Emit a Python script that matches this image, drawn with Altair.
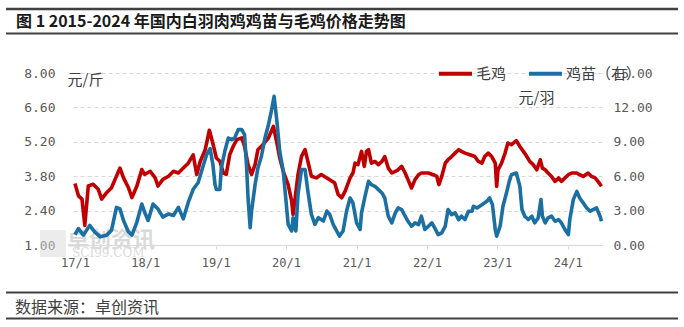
import altair as alt
import pandas as pd

# ---- data (time as decimal year) ----
SERIES = ["毛鸡", "鸡苗（右）"]

red_t = [2017.00, 2017.05, 2017.10, 2017.14, 2017.19, 2017.26, 2017.33, 2017.38, 2017.45, 2017.52,
         2017.57, 2017.64, 2017.69, 2017.76, 2017.81, 2017.88, 2017.95, 2017.99, 2018.07, 2018.14,
         2018.18, 2018.25, 2018.33, 2018.40, 2018.47, 2018.54, 2018.61, 2018.68, 2018.73, 2018.78,
         2018.85, 2018.91, 2018.96, 2019.01, 2019.06, 2019.11, 2019.15, 2019.20, 2019.25, 2019.30,
         2019.37, 2019.41, 2019.46, 2019.51, 2019.56, 2019.60, 2019.67, 2019.75, 2019.82, 2019.87,
         2019.91, 2019.96, 2020.03, 2020.08, 2020.10, 2020.13, 2020.17, 2020.22, 2020.27, 2020.31,
         2020.36, 2020.43, 2020.50, 2020.58, 2020.65, 2020.69, 2020.74, 2020.79, 2020.84, 2020.91,
         2020.95, 2020.98, 2021.02, 2021.07, 2021.11, 2021.14, 2021.17, 2021.21, 2021.26, 2021.31,
         2021.36, 2021.40, 2021.45, 2021.50, 2021.55, 2021.59, 2021.64, 2021.69, 2021.73, 2021.78,
         2021.83, 2021.88, 2021.92, 2021.97, 2022.02, 2022.09, 2022.14, 2022.17, 2022.21, 2022.26,
         2022.30, 2022.35, 2022.40, 2022.45, 2022.49, 2022.54, 2022.61, 2022.68, 2022.73, 2022.78,
         2022.82, 2022.87, 2022.92, 2022.97, 2022.99, 2023.01, 2023.06, 2023.11, 2023.15, 2023.20,
         2023.27, 2023.32, 2023.37, 2023.42, 2023.46, 2023.51, 2023.56, 2023.61, 2023.64, 2023.68,
         2023.72, 2023.77, 2023.82, 2023.87, 2023.91, 2023.96, 2024.01, 2024.06, 2024.13, 2024.17,
         2024.22, 2024.29, 2024.34, 2024.39, 2024.43, 2024.48]
red_v = [3.50, 3.00, 2.87, 1.80, 3.40, 3.47, 3.27, 2.87, 3.13, 3.33,
         3.67, 4.13, 3.73, 3.33, 2.93, 3.40, 4.07, 3.87, 4.00, 3.73,
         3.40, 3.67, 3.80, 4.00, 3.93, 4.13, 4.33, 4.67, 3.87, 4.40,
         4.87, 5.67, 5.13, 4.54, 4.41, 3.93, 3.87, 4.68, 5.02, 5.29,
         5.36, 5.02, 4.27, 3.87, 4.27, 4.88, 5.08, 5.36, 5.83, 5.15,
         4.54, 4.00, 3.46, 2.79, 2.24, 2.92, 3.87, 4.61, 4.88, 4.41,
         3.80, 3.73, 3.87, 3.73, 3.60, 3.53, 3.06, 2.92, 3.19, 3.73,
         3.93, 4.33, 4.27, 4.81, 4.20, 4.81, 4.88, 4.33, 4.40, 4.27,
         4.40, 4.60, 4.13, 3.93, 4.00, 4.06, 4.20, 3.93, 3.66, 3.32,
         3.66, 3.86, 3.93, 3.93, 3.93, 3.86, 3.79, 3.46, 3.79, 4.33,
         4.47, 4.60, 4.74, 4.88, 4.81, 4.74, 4.67, 4.60, 4.40, 4.33,
         4.60, 4.74, 4.60, 4.33, 3.39, 4.06, 4.33, 4.74, 5.15, 5.08,
         5.25, 5.01, 4.81, 4.60, 4.40, 4.27, 4.06, 4.47, 4.13, 4.06,
         3.93, 3.79, 3.59, 3.73, 3.59, 3.73, 3.86, 3.93, 3.93, 3.86,
         3.79, 3.93, 3.79, 3.73, 3.59, 3.39]

blue_t = [2017.00, 2017.05, 2017.12, 2017.21, 2017.28, 2017.36, 2017.45, 2017.52, 2017.59, 2017.64,
          2017.69, 2017.76, 2017.81, 2017.88, 2017.95, 2017.99, 2018.04, 2018.11, 2018.18, 2018.25,
          2018.33, 2018.40, 2018.47, 2018.54, 2018.61, 2018.68, 2018.75, 2018.82, 2018.87, 2018.92,
          2018.96, 2018.99, 2019.01, 2019.06, 2019.08, 2019.13, 2019.18, 2019.23, 2019.27, 2019.32,
          2019.37, 2019.41, 2019.44, 2019.46, 2019.49, 2019.51, 2019.56, 2019.60, 2019.65, 2019.70,
          2019.75, 2019.79, 2019.83, 2019.87, 2019.91, 2019.96, 2020.00, 2020.03, 2020.08, 2020.10,
          2020.14, 2020.17, 2020.22, 2020.27, 2020.31, 2020.36, 2020.41, 2020.46, 2020.53, 2020.58,
          2020.62, 2020.67, 2020.72, 2020.76, 2020.81, 2020.86, 2020.91, 2020.95, 2021.00, 2021.05,
          2021.07, 2021.12, 2021.17, 2021.21, 2021.26, 2021.31, 2021.36, 2021.40, 2021.45, 2021.50,
          2021.55, 2021.59, 2021.64, 2021.69, 2021.73, 2021.78, 2021.83, 2021.88, 2021.92, 2021.97,
          2022.02, 2022.07, 2022.11, 2022.16, 2022.21, 2022.26, 2022.30, 2022.35, 2022.40, 2022.45,
          2022.49, 2022.54, 2022.59, 2022.64, 2022.66, 2022.71, 2022.78, 2022.85, 2022.89, 2022.93,
          2022.97, 2022.99, 2023.04, 2023.08, 2023.13, 2023.17, 2023.20, 2023.27, 2023.32, 2023.35,
          2023.39, 2023.44, 2023.49, 2023.53, 2023.58, 2023.62, 2023.64, 2023.68, 2023.72, 2023.77,
          2023.82, 2023.87, 2023.91, 2023.96, 2024.01, 2024.03, 2024.08, 2024.13, 2024.17, 2024.22,
          2024.27, 2024.32, 2024.36, 2024.41, 2024.46, 2024.48]
blue_v = [0.90, 1.43, 0.86, 1.71, 1.14, 0.71, 0.86, 1.29, 3.28, 3.14,
          2.14, 1.14, 0.86, 2.00, 3.57, 2.86, 2.14, 3.57, 3.14, 2.43,
          2.71, 2.57, 3.28, 2.28, 3.71, 4.86, 5.43, 6.86, 7.86, 8.40,
          7.01, 5.28, 4.84, 4.84, 6.72, 8.17, 9.33, 9.19, 9.33, 10.06,
          10.06, 9.62, 6.72, 4.12, 1.51, 2.96, 5.28, 6.72, 7.74, 9.33,
          10.49, 11.65, 12.96, 10.78, 8.17, 6.43, 3.83, 1.80, 1.22, 2.38,
          1.22, 4.41, 6.58, 6.58, 4.70, 2.67, 1.80, 2.38, 2.09, 2.96,
          2.67, 1.80, 1.22, 0.78, 1.22, 2.96, 4.10, 3.67, 1.93, 1.35,
          2.80, 4.25, 5.55, 5.26, 5.12, 4.83, 4.54, 4.10, 2.51, 1.93,
          2.80, 3.23, 3.09, 2.51, 2.07, 1.64, 1.93, 1.78, 2.51, 1.35,
          1.64, 1.93, 1.49, 0.91, 1.06, 1.64, 3.09, 2.65, 2.80, 2.22,
          2.51, 2.22, 2.94, 2.94, 3.38, 3.23, 3.52, 3.81, 4.10, 3.52,
          1.35, 0.77, 1.64, 3.38, 4.54, 5.55, 6.13, 6.28, 5.12, 3.09,
          2.51, 2.22, 2.51, 1.93, 2.36, 3.96, 2.51, 1.93, 2.36, 2.51,
          2.07, 2.22, 1.93, 1.35, 0.91, 2.22, 3.96, 4.68, 4.10, 3.67,
          3.23, 2.94, 3.09, 3.23, 2.51, 2.07]

left_ticks = [1.00, 2.40, 3.80, 5.20, 6.60, 8.00]
right_ticks = [0, 3, 6, 9, 12, 15]

TITLE = "图 1 2015-2024 年国内白羽肉鸡鸡苗与毛鸡价格走势图"
SOURCE = "数据来源：卓创资讯"


def to_ts(y):
    yr = int(y)
    ts = pd.Timestamp(year=yr, month=1, day=1) + pd.to_timedelta((y - yr) * 365.25, unit="D")
    return ts.strftime("%Y-%m-%dT%H:%M:%S")


df = pd.concat([
    pd.DataFrame({"date": [to_ts(t) for t in red_t], "value": red_v, "series": SERIES[0]}),
    pd.DataFrame({"date": [to_ts(t) for t in blue_t], "value": blue_v, "series": SERIES[1]}),
])

RED = "#C00000"
BLUE = "#1B6FA3"
GRAY = "#595959"
GRID = "#D9D9D9"
CJK = "Noto Sans CJK SC"
MONO = "DejaVu Sans Mono"

W, H = 529, 172

color = alt.Color(
    "series:N",
    scale=alt.Scale(domain=SERIES, range=[RED, BLUE]),
    legend=alt.Legend(
        orient="none", legendX=364, legendY=-18, direction="horizontal", title=None,
        symbolType="stroke", symbolSize=1089, symbolStrokeWidth=4,
        labelFont=CJK, labelFontSize=15, labelColor="#404040", labelOffset=2,
        columnPadding=14, padding=0,
    ),
)

x_enc = alt.X(
    "date:T",
    scale=alt.Scale(domain=[alt.DateTime(year=2016, month=12, date=22),
                            alt.DateTime(year=2024, month=6, date=27)]),
    axis=alt.Axis(
        format="%y/%-m", tickCount=alt.TimeIntervalStep(interval="year", step=1),
        labelFont=MONO, labelFontSize=12, labelColor=GRAY, domainColor=GRID,
        tickColor=GRID, tickSize=4, labelPadding=8, grid=False, title=None,
    ),
)

y_left = alt.Y(
    "value:Q",
    scale=alt.Scale(domain=[1, 8], nice=False, zero=False),
    axis=alt.Axis(
        orient="left", values=left_ticks, format=".2f",
        labelFont=MONO, labelFontSize=13, labelColor=GRAY, labelPadding=18,
        ticks=False, tickSize=0, domain=False,
        grid=True, gridColor=GRID, gridDash=[4, 3],
        title="元/斤", titleAngle=0, titleX=-6, titleY=6, titleAlign="left",
        titleBaseline="middle", titleFont=CJK, titleFontSize=15,
        titleFontWeight="normal", titleColor="#404040",
    ),
)

y_right = alt.Y(
    "value:Q",
    scale=alt.Scale(domain=[0, 15], nice=False, zero=False),
    axis=alt.Axis(
        orient="right", values=right_ticks, format=".2f",
        labelFont=MONO, labelFontSize=13, labelColor=GRAY, labelPadding=11,
        ticks=False, tickSize=0, domain=False, grid=False,
        title="元/羽", titleAngle=0, titleX=-84, titleY=24, titleAlign="left",
        titleBaseline="middle", titleFont=CJK, titleFontSize=15,
        titleFontWeight="normal", titleColor="#404040",
    ),
)

base = alt.Chart(df)

red_line = base.transform_filter(alt.datum.series == SERIES[0]).mark_line(
    strokeWidth=3.6, strokeJoin="round").encode(x=x_enc, y=y_left, color=color)
blue_line = base.transform_filter(alt.datum.series == SERIES[1]).mark_line(
    strokeWidth=3.6, strokeJoin="round").encode(x=x_enc, y=y_right, color=color)

one = alt.Data(values=[{}])


def deco_text(txt, x, y, size, weight="normal", col="#222222", font=CJK, opacity=1.0):
    return alt.Chart(one).mark_text(
        text=txt, align="left", baseline="middle", font=font, fontSize=size,
        fontWeight=weight, color=col, opacity=opacity,
    ).encode(x=alt.value(x), y=alt.value(y))


def hrule(x1, x2, y, w, col="#404040"):
    return alt.Chart(one).mark_rule(strokeWidth=w, color=col).encode(
        x=alt.value(x1), x2=alt.value(x2), y=alt.value(y))


wm_box = alt.Chart(one).mark_rect(color="#DADADA", opacity=0.5).encode(
    x=alt.value(-33), x2=alt.value(-7), y=alt.value(157), y2=alt.value(184))
wm_text1 = deco_text("卓创资讯", -6, 167, 22, "bold", "#DADADA")
wm_text2 = deco_text("SCI99.COM", -1, 180, 12, "normal", "#DADADA", "DejaVu Serif")

title = deco_text(TITLE, -57, -51, 16, "bold", "#1A1A1A")
source = deco_text(SOURCE, -58, 235, 16, "normal", "#404040")

rules = [
    hrule(-67, 605, -64, 2.5),
    hrule(-67, 605, -39.5, 2),
    hrule(-67, 605, 219.5, 2),
    hrule(-67, 605, 245.5, 2),
]

chart = alt.layer(
    wm_box, wm_text1, wm_text2, red_line, blue_line, title, source, *rules
).resolve_scale(y="independent").properties(
    width=W, height=H, autosize="none",
    padding={"left": 73, "top": 73, "right": 82, "bottom": 82},
    background="white",
).configure_view(stroke=None)

chart.save("out.html", embed_options={"renderer": "svg", "actions": False})
